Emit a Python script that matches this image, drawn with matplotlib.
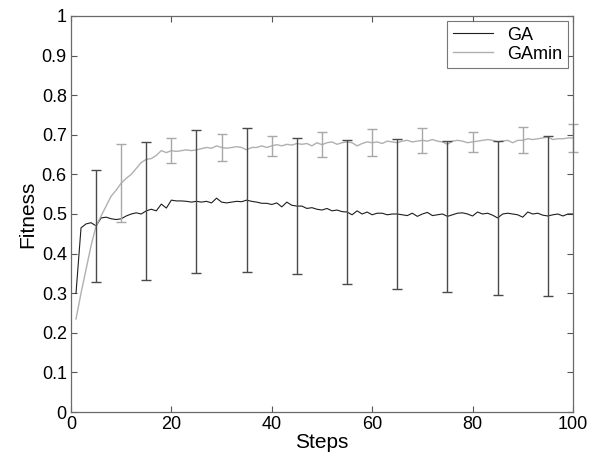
import numpy as np
import matplotlib
matplotlib.use("Agg")
import matplotlib.pyplot as plt

plt.rcParams['font.family'] = ['Liberation Sans', 'DejaVu Sans']

steps = np.arange(1, 101)

ga = [0.300, 0.465, 0.475, 0.478, 0.470, 0.490, 0.492, 0.488, 0.486, 0.488,
      0.495, 0.500, 0.503, 0.500, 0.508, 0.512, 0.508, 0.525, 0.515, 0.535,
      0.533, 0.533, 0.532, 0.530, 0.532, 0.530, 0.532, 0.528, 0.540, 0.530,
      0.528, 0.530, 0.532, 0.531, 0.535, 0.532, 0.530, 0.527, 0.527, 0.524,
      0.528, 0.518, 0.530, 0.522, 0.520, 0.520, 0.514, 0.516, 0.512, 0.510,
      0.514, 0.508, 0.510, 0.506, 0.505, 0.498, 0.508, 0.500, 0.505, 0.498,
      0.502, 0.502, 0.498, 0.500, 0.500, 0.498, 0.496, 0.502, 0.494, 0.500,
      0.504, 0.496, 0.498, 0.500, 0.494, 0.498, 0.502, 0.503, 0.500, 0.495,
      0.505, 0.500, 0.502, 0.497, 0.490, 0.500, 0.502, 0.500, 0.498, 0.492,
      0.505, 0.500, 0.502, 0.497, 0.495, 0.498, 0.500, 0.495, 0.500, 0.500]

gamin = [0.235, 0.300, 0.360, 0.420, 0.470, 0.495, 0.520, 0.545, 0.560, 0.578,
         0.590, 0.600, 0.615, 0.630, 0.638, 0.640, 0.648, 0.660, 0.655, 0.660,
         0.658, 0.660, 0.662, 0.660, 0.662, 0.665, 0.668, 0.666, 0.672, 0.668,
         0.666, 0.668, 0.670, 0.668, 0.662, 0.668, 0.668, 0.672, 0.668, 0.672,
         0.675, 0.672, 0.676, 0.674, 0.678, 0.676, 0.678, 0.672, 0.680, 0.675,
         0.680, 0.682, 0.676, 0.680, 0.682, 0.680, 0.672, 0.678, 0.682, 0.680,
         0.682, 0.678, 0.684, 0.682, 0.680, 0.684, 0.686, 0.682, 0.684, 0.686,
         0.684, 0.688, 0.684, 0.682, 0.676, 0.684, 0.686, 0.684, 0.680, 0.682,
         0.684, 0.686, 0.688, 0.686, 0.682, 0.684, 0.686, 0.680, 0.686, 0.686,
         0.690, 0.688, 0.690, 0.692, 0.694, 0.688, 0.690, 0.690, 0.692, 0.692]

ga_err_steps = [5, 15, 25, 35, 45, 55, 65, 75, 85, 95]
ga_err = [0.142, 0.175, 0.180, 0.182, 0.172, 0.183, 0.189, 0.190, 0.195, 0.203]
gamin_err_steps = [10, 20, 30, 40, 50, 60, 70, 80, 90, 100]
gamin_err = [0.098, 0.032, 0.033, 0.026, 0.031, 0.034, 0.032, 0.026, 0.033, 0.035]

fig = plt.figure(figsize=(5.99, 4.62), dpi=100)
ax = fig.add_axes([0.1185, 0.1082, 0.838, 0.8572])

ga_c = '#1e1e1e'
gamin_c = '#b0b0b0'

ax.plot(steps, ga, color=ga_c, lw=0.8, label='GA')
ax.plot(steps, gamin, color=gamin_c, lw=1.0, label='GAmin')

ga_arr = np.array(ga)
gamin_arr = np.array(gamin)
ax.errorbar(ga_err_steps, ga_arr[np.array(ga_err_steps) - 1], yerr=ga_err,
            fmt='none', ecolor='#4a4a4a', elinewidth=1.0, capsize=3.5,
            capthick=1.0, clip_on=False)
ax.errorbar(gamin_err_steps, gamin_arr[np.array(gamin_err_steps) - 1], yerr=gamin_err,
            fmt='none', ecolor='#a8a8a8', elinewidth=1.0, capsize=3.5,
            capthick=1.0, clip_on=False)

ax.set_xlim(0, 100)
ax.set_ylim(0, 1)
ax.set_xticks(np.arange(0, 101, 20))
ax.set_yticks(np.arange(0, 1.01, 0.1))
ax.set_yticklabels(['0'] + ['%.1f' % v for v in np.arange(0.1, 0.95, 0.1)] + ['1'])

ax.tick_params(direction='in', length=4, width=0.8, colors='#555555',
               labelcolor='black', labelsize=13, top=True, right=True, pad=3)
for s in ax.spines.values():
    s.set_color('#6a6a6a')
    s.set_linewidth(0.9)

ax.set_xlabel('Steps', fontsize=15, labelpad=0)
ax.set_ylabel('Fitness', fontsize=15, labelpad=3)

leg = ax.legend(loc='upper right', fontsize=13, frameon=True, fancybox=False,
                edgecolor='#555555', handlelength=2.2, handletextpad=0.8,
                borderpad=0.3, labelspacing=0.1, borderaxespad=0.3)
leg.get_frame().set_linewidth(0.8)

fig.savefig('out.png', dpi=100)
